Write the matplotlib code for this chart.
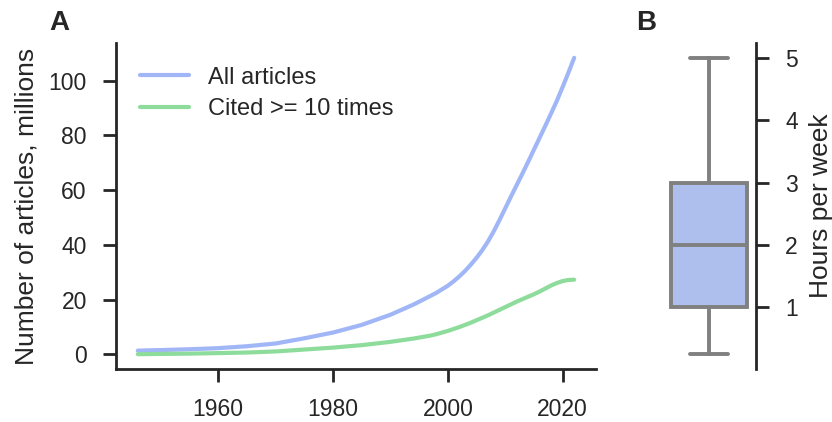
import matplotlib

matplotlib.use("Agg")

import matplotlib.pyplot as plt

# panel A: articles per year (millions)
years = [1946, 1950, 1955, 1960, 1965, 1970, 1975, 1980, 1985, 1990, 1994,
         1997, 1998, 1999, 2000, 2001, 2002, 2003, 2004, 2005, 2006, 2007,
         2008, 2009, 2010, 2011, 2012, 2013, 2014, 2015, 2016, 2017, 2018,
         2019, 2020, 2021, 2022]
all_articles = [1.4, 1.6, 1.9, 2.3, 3.0, 4.0, 5.9, 8.0, 10.8, 14.5, 18.2,
                21.4, 22.5, 23.8, 25.1, 26.7, 28.5, 30.5, 32.8, 35.3, 38.1,
                41.3, 45.0, 49.1, 53.4, 57.7, 61.9, 66.1, 70.4, 74.8, 79.2,
                83.6, 88.1, 92.7, 97.7, 102.9, 108.3]
cited_10 = [0.1, 0.2, 0.3, 0.5, 0.7, 1.1, 1.8, 2.5, 3.4, 4.6, 5.8,
            6.9, 7.4, 8.0, 8.6, 9.3, 10.0, 10.8, 11.6, 12.5, 13.4, 14.3,
            15.3, 16.3, 17.3, 18.3, 19.3, 20.2, 21.1, 22.0, 23.0, 24.1,
            25.2, 26.1, 26.8, 27.2, 27.3]
series_labels = ["All articles", "Cited >= 10 times"]

# panel B: hours per week (box summary)
hours_stats = {"whislo": 0.25, "q1": 1.0, "med": 2.0, "q3": 3.0, "whishi": 5.0}
hours_ticks = [1, 2, 3, 4, 5]

BLUE = "#a0b6f7"
GREEN = "#8edc9b"
BOX_FILL = "#aebfee"
GRAY = "#808080"
DARK = "#262626"

plt.rcParams.update({
    "font.family": ["Liberation Sans", "DejaVu Sans"],
    "text.color": DARK,
    "axes.labelcolor": DARK,
    "axes.edgecolor": DARK,
    "xtick.color": DARK,
    "ytick.color": DARK,
    "axes.linewidth": 2.0,
    "xtick.major.width": 2.0,
    "ytick.major.width": 2.0,
    "xtick.major.size": 9.5,
    "ytick.major.size": 9.5,
    "xtick.major.pad": 11.5,
    "ytick.major.pad": 11.5,
    "xtick.labelsize": 16.5,
    "ytick.labelsize": 16.5,
    "axes.labelsize": 19,
    "legend.fontsize": 17,
})

fig = plt.figure(figsize=(8.32, 4.22), dpi=100, facecolor="white")

ax_a = fig.add_axes([116 / 832, 1 - 369 / 422, 480 / 832, 326 / 422])
ax_a.plot(years, all_articles, color=BLUE, lw=3.0, label=series_labels[0],
          solid_capstyle="round", solid_joinstyle="round")
ax_a.plot(years, cited_10, color=GREEN, lw=3.0, label=series_labels[1],
          solid_capstyle="round", solid_joinstyle="round")
ax_a.set_xticks([1960, 1980, 2000, 2020])
ax_a.set_yticks([0, 20, 40, 60, 80, 100])
ax_a.set_ylabel("Number of articles, millions", labelpad=7)
ax_a.spines[["top", "right"]].set_visible(False)
ax_a.legend(loc="upper left", frameon=False, handlelength=2.1,
            borderaxespad=0.6, labelspacing=0.4)

ax_b = fig.add_axes([662 / 832, 1 - 369 / 422, 94 / 832, 326 / 422])
stats = dict(hours_stats, fliers=[])
ax_b.bxp([stats], positions=[0], widths=0.8, patch_artist=True,
         showfliers=False,
         boxprops=dict(facecolor=BOX_FILL, edgecolor=GRAY, linewidth=2.8),
         medianprops=dict(color=GRAY, linewidth=2.8),
         whiskerprops=dict(color=GRAY, linewidth=2.8),
         capprops=dict(color=GRAY, linewidth=2.8, solid_capstyle="round"))
ax_b.set_xlim(-0.5, 0.5)
ax_b.margins(y=0.05)
ax_b.set_yticks(hours_ticks)
ax_b.set_xticks([])
ax_b.yaxis.tick_right()
ax_b.yaxis.set_label_position("right")
ax_b.set_ylabel("Hours per week", labelpad=8)
for side in ["top", "left", "bottom"]:
    ax_b.spines[side].set_visible(False)

fig.text(49 / 832, 1 - 23 / 422, "A", fontsize=20, fontweight="bold", va="center")
fig.text(636 / 832, 1 - 23 / 422, "B", fontsize=20, fontweight="bold", va="center")

fig.savefig("out.png", dpi=100, facecolor="white")
